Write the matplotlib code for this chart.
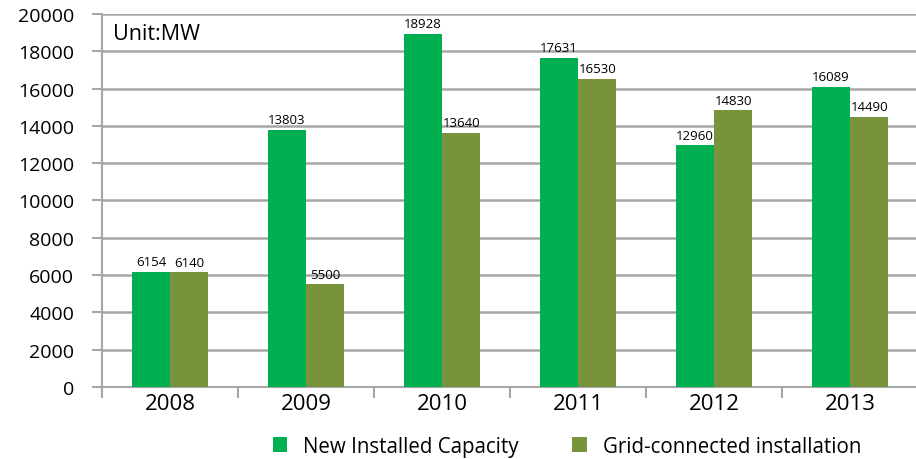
import numpy as np
import matplotlib.pyplot as plt

years = ['2008', '2009', '2010', '2011', '2012', '2013']
new_installed = [6154, 13803, 18928, 17631, 12960, 16089]
grid_connected = [6140, 5500, 13640, 16530, 14830, 14490]

plt.rcParams['font.family'] = ['Open Sans', 'DejaVu Sans']

fig = plt.figure(figsize=(9.16, 4.6), dpi=100)
ax = fig.add_axes([0.1114, 0.1565, 0.891, 0.811])

x = np.arange(len(years))
w = 0.28
b1 = ax.bar(x - w / 2, new_installed, w, color='#00B050', label='New Installed Capacity', zorder=3)
b2 = ax.bar(x + w / 2, grid_connected, w, color='#77933C', label='Grid-connected installation', zorder=3)

for bars in (b1, b2):
    for r in bars:
        ax.text(r.get_x() + r.get_width() / 2, r.get_height() + 200, '%d' % r.get_height(),
                ha='center', va='bottom', fontsize=9.5)

ax.set_ylim(0, 20000)
ax.set_yticks(range(0, 20001, 2000))
ax.set_xlim(-0.5, 5.5)
ax.set_xticks(x)
ax.set_xticklabels(years, fontsize=16)
ax.set_xticks(np.arange(-0.5, 6.0, 1.0), minor=True)
ax.tick_params(axis='x', which='major', length=0, pad=4)
ax.tick_params(axis='x', which='minor', length=8, color='#A6A6A6', width=1.5)
ax.tick_params(axis='y', labelsize=14, length=7, color='#A6A6A6', width=1.5, pad=13)

ax.grid(axis='y', color='#A6A6A6', linewidth=1.8, zorder=0)
for s in ['top', 'right']:
    ax.spines[s].set_visible(False)
for s in ['left', 'bottom']:
    ax.spines[s].set_color('#A6A6A6')
    ax.spines[s].set_linewidth(1.5)

ax.text(0.013, 0.975, 'Unit:MW', transform=ax.transAxes, ha='left', va='top', fontsize=15.5)

fig.legend(loc='lower center', bbox_to_anchor=(0.619, -0.035), ncol=2, frameon=False,
           fontsize=14.8, handlelength=0.7, handleheight=0.7, columnspacing=2.6)

fig.savefig('out.png', dpi=100)
